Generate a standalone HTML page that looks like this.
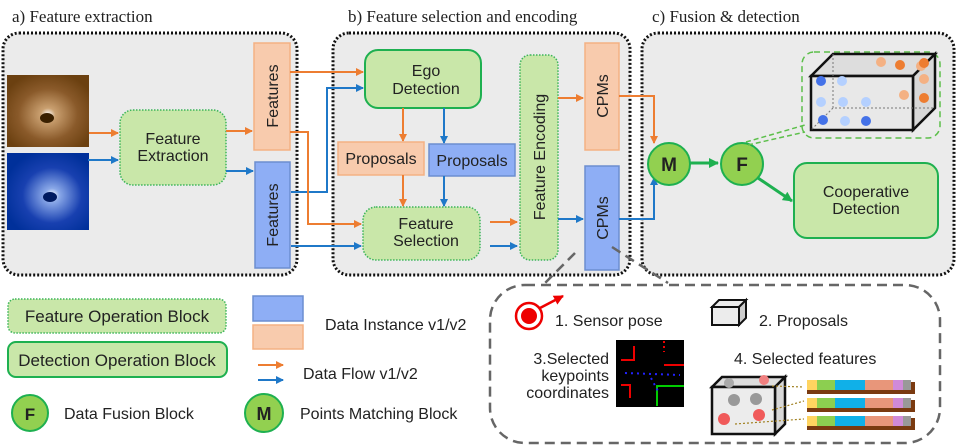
<!DOCTYPE html>
<html><head><meta charset="utf-8"><style>
html,body{margin:0;padding:0;background:#fff;}
svg{display:block;}
text{font-family:"Liberation Sans",sans-serif;fill:#222;}
.s{font-family:"Liberation Serif",serif;}
</style></head><body>
<svg width="957" height="448" viewBox="0 0 957 448" xmlns="http://www.w3.org/2000/svg">
<defs>
<marker id="ao" markerWidth="8" markerHeight="8" refX="7" refY="4" orient="auto" markerUnits="userSpaceOnUse"><path d="M0,0 L8,4 L0,8z" fill="#ed7d31"/></marker>
<marker id="ab" markerWidth="8" markerHeight="8" refX="7" refY="4" orient="auto" markerUnits="userSpaceOnUse"><path d="M0,0 L8,4 L0,8z" fill="#1f78c8"/></marker>
<marker id="ag" markerWidth="10" markerHeight="10" refX="9" refY="5" orient="auto" markerUnits="userSpaceOnUse"><path d="M0,0 L10,5 L0,10z" fill="#1eb050"/></marker>
<marker id="ar" markerWidth="10" markerHeight="10" refX="9" refY="5" orient="auto" markerUnits="userSpaceOnUse"><path d="M0,0 L10,5 L0,10z" fill="#e00"/></marker>
<radialGradient id="gb" cx="0.5" cy="0.55" r="0.6"><stop offset="0" stop-color="#fff"/><stop offset="0.15" stop-color="#caa070"/><stop offset="0.6" stop-color="#8a5a2a"/><stop offset="1" stop-color="#6b4010"/></radialGradient>
<radialGradient id="gl" cx="0.55" cy="0.55" r="0.6"><stop offset="0" stop-color="#fff"/><stop offset="0.15" stop-color="#8aa8e8"/><stop offset="0.6" stop-color="#1840b0"/><stop offset="1" stop-color="#00309a"/></radialGradient>
</defs>

<text class="s" x="12" y="22" font-size="17">a) Feature extraction</text>
<text class="s" x="348" y="22" font-size="17">b) Feature selection and encoding</text>
<text class="s" x="652" y="22" font-size="17">c) Fusion &amp; detection</text>

<rect x="3" y="33" width="294" height="242" rx="16" fill="#ebebeb" stroke="#111" stroke-width="3" stroke-dasharray="2 2"/>
<rect x="333" y="33" width="297" height="242" rx="16" fill="#ebebeb" stroke="#111" stroke-width="3" stroke-dasharray="2 2"/>
<rect x="642" y="33" width="312" height="242" rx="16" fill="#ebebeb" stroke="#111" stroke-width="3" stroke-dasharray="2 2"/>

<rect x="7" y="75" width="82" height="72" fill="url(#gb)"/>
<ellipse cx="47" cy="118" rx="7" ry="5" fill="#3a2000"/>
<rect x="7" y="153" width="82" height="77" fill="url(#gl)"/>
<ellipse cx="50" cy="197" rx="7" ry="5" fill="#001a60"/>

<rect x="120" y="110" width="106" height="75" rx="13" fill="#c9e7a9" stroke="#3cb55a" stroke-width="1.5" stroke-dasharray="1.5 1.5"/>
<text x="173" y="144" font-size="16" text-anchor="middle">Feature</text>
<text x="173" y="161" font-size="16" text-anchor="middle">Extraction</text>
<line x1="89" y1="133" x2="118" y2="133" stroke="#ed7d31" stroke-width="2" marker-end="url(#ao)"/>
<line x1="88" y1="160" x2="118" y2="160" stroke="#1f78c8" stroke-width="2" marker-end="url(#ab)"/>
<line x1="226" y1="131" x2="252" y2="131" stroke="#ed7d31" stroke-width="2" marker-end="url(#ao)"/>
<line x1="226" y1="171" x2="253" y2="171" stroke="#1f78c8" stroke-width="2" marker-end="url(#ab)"/>

<rect x="254" y="43" width="36" height="107" fill="#f8cbad" stroke="#f4b183" stroke-width="1.5"/>
<text transform="translate(278,96) rotate(-90)" font-size="16" text-anchor="middle">Features</text>
<rect x="255" y="162" width="35" height="106" fill="#8eaef5" stroke="#6c8ed0" stroke-width="1.5"/>
<text transform="translate(278,215) rotate(-90)" font-size="16" text-anchor="middle">Features</text>

<polyline points="290,72 363,72" fill="none" stroke="#ed7d31" stroke-width="2" marker-end="url(#ao)"/>
<polyline points="291,192 327,192 327,88 363,88" fill="none" stroke="#1f78c8" stroke-width="2" marker-end="url(#ab)"/>
<polyline points="290,132 308,132 308,224 361,224" fill="none" stroke="#ed7d31" stroke-width="2" marker-end="url(#ao)"/>
<polyline points="291,246 361,246" fill="none" stroke="#1f78c8" stroke-width="2" marker-end="url(#ab)"/>

<rect x="365" y="50" width="116" height="58" rx="13" fill="#c9e7a9" stroke="#1eb050" stroke-width="2"/>
<text x="426" y="76" font-size="16" text-anchor="middle">Ego</text>
<text x="426" y="94" font-size="16" text-anchor="middle">Detection</text>
<line x1="403" y1="108" x2="403" y2="141" stroke="#ed7d31" stroke-width="2" marker-end="url(#ao)"/>
<line x1="444" y1="108" x2="444" y2="143" stroke="#1f78c8" stroke-width="2" marker-end="url(#ab)"/>
<rect x="338" y="142" width="86" height="33" fill="#f8cbad" stroke="#f4b183" stroke-width="1.5"/>
<text x="381" y="164" font-size="16" text-anchor="middle">Proposals</text>
<rect x="429" y="144" width="86" height="32" fill="#8eaef5" stroke="#6c8ed0" stroke-width="1.5"/>
<text x="472" y="166" font-size="16" text-anchor="middle">Proposals</text>
<line x1="403" y1="175" x2="403" y2="206" stroke="#ed7d31" stroke-width="2" marker-end="url(#ao)"/>
<line x1="444" y1="176" x2="444" y2="206" stroke="#1f78c8" stroke-width="2" marker-end="url(#ab)"/>

<rect x="363" y="207" width="117" height="53" rx="13" fill="#c9e7a9" stroke="#3cb55a" stroke-width="1.5" stroke-dasharray="1.5 1.5"/>
<text x="426" y="229" font-size="16" text-anchor="middle">Feature</text>
<text x="426" y="246" font-size="16" text-anchor="middle">Selection</text>
<line x1="490" y1="222" x2="517" y2="222" stroke="#ed7d31" stroke-width="2" marker-end="url(#ao)"/>
<line x1="490" y1="246" x2="517" y2="246" stroke="#1f78c8" stroke-width="2" marker-end="url(#ab)"/>

<rect x="520" y="55" width="38" height="205" rx="10" fill="#c9e7a9" stroke="#3cb55a" stroke-width="1.5" stroke-dasharray="1.5 1.5"/>
<text transform="translate(545,157) rotate(-90)" font-size="16" text-anchor="middle">Feature Encoding</text>
<line x1="558" y1="98" x2="583" y2="98" stroke="#ed7d31" stroke-width="2" marker-end="url(#ao)"/>
<line x1="558" y1="219" x2="583" y2="219" stroke="#1f78c8" stroke-width="2" marker-end="url(#ab)"/>

<rect x="585" y="43" width="34" height="107" fill="#f8cbad" stroke="#f4b183" stroke-width="1.5"/>
<text transform="translate(608,96) rotate(-90)" font-size="16" text-anchor="middle">CPMs</text>
<rect x="585" y="166" width="34" height="104" fill="#8eaef5" stroke="#6c8ed0" stroke-width="1.5"/>
<text transform="translate(608,218) rotate(-90)" font-size="16" text-anchor="middle">CPMs</text>

<polyline points="619,96 654,96 654,143" fill="none" stroke="#ed7d31" stroke-width="2" marker-end="url(#ao)"/>
<polyline points="619,219 654,219 654,178" fill="none" stroke="#1f78c8" stroke-width="2" marker-end="url(#ab)"/>

<circle cx="669" cy="164" r="21" fill="#92d050" stroke="#1eb050" stroke-width="2"/>
<text x="669" y="171" font-size="19" font-weight="bold" text-anchor="middle">M</text>
<line x1="690" y1="163" x2="718" y2="163" stroke="#1eb050" stroke-width="3" marker-end="url(#ag)"/>
<circle cx="742" cy="164" r="21" fill="#92d050" stroke="#1eb050" stroke-width="2"/>
<text x="742" y="171" font-size="19" font-weight="bold" text-anchor="middle">F</text>
<line x1="758" y1="178" x2="792" y2="201" stroke="#1eb050" stroke-width="3" marker-end="url(#ag)"/>
<rect x="794" y="163" width="144" height="75" rx="13" fill="#c9e7a9" stroke="#1eb050" stroke-width="2"/>
<text x="866" y="197" font-size="16" text-anchor="middle">Cooperative</text>
<text x="866" y="214" font-size="16" text-anchor="middle">Detection</text>

<path d="M746,142 L805,125 M748,145 L805,132" stroke="#5cbf4a" stroke-width="1.5" stroke-dasharray="5 3"/>
<rect x="802" y="52" width="138" height="86" rx="12" fill="none" stroke="#5cbf4a" stroke-width="1.5" stroke-dasharray="6 4"/>
<g stroke="#111" stroke-width="2.5" fill="none">
<path d="M811,76 L833,54 L935,54 L913,76 Z" fill="#ddd"/>
<path d="M913,76 L935,54 L935,108 L913,130 Z" fill="#d8d8d8"/>
<rect x="811" y="76" width="102" height="54" fill="rgba(230,230,230,0.6)"/>
</g>
<path d="M833,54 L833,108 L935,108 M833,108 L811,130" stroke="#777" stroke-width="1" stroke-dasharray="2 2" fill="none"/>
<g>
<circle cx="821" cy="81" r="5" fill="#4472e8"/><circle cx="842" cy="81" r="5" fill="#b4d0ff"/>
<circle cx="821" cy="102" r="5" fill="#b4d0ff"/><circle cx="843" cy="102" r="5" fill="#b4d0ff"/><circle cx="866" cy="102" r="5" fill="#b4d0ff"/>
<circle cx="823" cy="120" r="5" fill="#4472e8"/><circle cx="845" cy="121" r="5" fill="#b4d0ff"/><circle cx="866" cy="121" r="5" fill="#4472e8"/>
<circle cx="881" cy="62" r="5" fill="#f4b183"/><circle cx="900" cy="65" r="5" fill="#ed7d31"/><circle cx="921" cy="66" r="5" fill="#f4b183"/><circle cx="924" cy="63" r="5" fill="#ed7d31"/>
<circle cx="924" cy="79" r="5" fill="#f4b183"/><circle cx="904" cy="95" r="5" fill="#f4b183"/><circle cx="924" cy="98" r="5" fill="#ed7d31"/>
</g>

<path d="M575,253 L538,290 M612,247 L668,283" stroke="#666" stroke-width="2.5" stroke-dasharray="10 6"/>
<rect x="490" y="285" width="450" height="158" rx="35" fill="#fff" stroke="#666" stroke-width="2.5" stroke-dasharray="10 6"/>
<circle cx="529" cy="316" r="13" fill="#fff" stroke="#e00" stroke-width="2.5"/>
<circle cx="529" cy="316" r="8" fill="#e00"/>
<line x1="540" y1="308" x2="563" y2="296" stroke="#e00" stroke-width="2.5" marker-end="url(#ar)"/>
<text x="555" y="326" font-size="16">1. Sensor pose</text>
<g stroke="#111" stroke-width="2" fill="#ececec">
<path d="M712,307 L719,300 L746,300 L739,307 Z"/>
<path d="M739,307 L746,300 L746,318 L739,325 Z" fill="#ccc"/>
<rect x="712" y="307" width="27" height="18"/>
</g>
<text x="759" y="326" font-size="16">2. Proposals</text>
<text x="609" y="364" font-size="16" text-anchor="end">3.Selected</text>
<text x="609" y="381" font-size="16" text-anchor="end">keypoints</text>
<text x="609" y="398" font-size="16" text-anchor="end">coordinates</text>
<rect x="616" y="340" width="68" height="67" fill="#000"/>
<g stroke-width="2" fill="none">
<path d="M634,346 L634,360 L621,360" stroke="#e00"/>
<path d="M664,341 L664,352" stroke="#e00" stroke-dasharray="2 3"/>
<path d="M664,365 L684,365" stroke="#e00"/>
<path d="M630,398 L630,385 L621,385" stroke="#e00"/>
<path d="M657,406 L657,386 L684,386" stroke="#0c0"/>
<path d="M625,373 L680,375 M651,378 L659,393" stroke="#22f" stroke-dasharray="2 4"/>
</g>
<text x="734" y="364" font-size="16">4.  Selected features</text>
<g stroke="#111" stroke-width="2.5" fill="#ececec">
<path d="M712,387 L722,377 L785,377 L775,387 Z" fill="#ddd"/>
<path d="M775,387 L785,377 L785,424 L775,434 Z" fill="#d8d8d8"/>
<rect x="712" y="387" width="63" height="47"/>
</g>
<circle cx="729" cy="383" r="5" fill="#aaa"/><circle cx="764" cy="380" r="5" fill="#f08080"/>
<circle cx="734" cy="400" r="6" fill="#999"/><circle cx="756" cy="399" r="6" fill="#999"/>
<circle cx="724" cy="419" r="6" fill="#f05a5a"/><circle cx="759" cy="415" r="6" fill="#f05a5a"/>
<g stroke="#a08020" stroke-width="1.2" stroke-dasharray="2 2"><line x1="772" y1="386" x2="804" y2="387"/><line x1="772" y1="410" x2="804" y2="401"/><line x1="735" y1="424" x2="804" y2="419"/></g>
<g>
<g transform="translate(807,380)"><rect x="0" y="2" width="108" height="12" fill="#7a3a10"/><rect x="0" y="0" width="10" height="10" fill="#ffd460"/><rect x="10" y="0" width="18" height="10" fill="#8ccf50"/><rect x="28" y="0" width="30" height="10" fill="#10b0e8"/><rect x="58" y="0" width="28" height="10" fill="#e8967a"/><rect x="86" y="0" width="10" height="10" fill="#d08ad8"/><rect x="96" y="0" width="8" height="10" fill="#999"/></g>
<g transform="translate(807,398)"><rect x="0" y="2" width="108" height="12" fill="#7a3a10"/><rect x="0" y="0" width="10" height="10" fill="#ffd460"/><rect x="10" y="0" width="18" height="10" fill="#8ccf50"/><rect x="28" y="0" width="30" height="10" fill="#10b0e8"/><rect x="58" y="0" width="28" height="10" fill="#e8967a"/><rect x="86" y="0" width="10" height="10" fill="#d08ad8"/><rect x="96" y="0" width="8" height="10" fill="#999"/></g>
<g transform="translate(807,416)"><rect x="0" y="2" width="108" height="12" fill="#7a3a10"/><rect x="0" y="0" width="10" height="10" fill="#ffd460"/><rect x="10" y="0" width="18" height="10" fill="#8ccf50"/><rect x="28" y="0" width="30" height="10" fill="#10b0e8"/><rect x="58" y="0" width="28" height="10" fill="#e8967a"/><rect x="86" y="0" width="10" height="10" fill="#d08ad8"/><rect x="96" y="0" width="8" height="10" fill="#999"/></g>
</g>

<rect x="8" y="299" width="218" height="34" rx="7" fill="#c9e7a9" stroke="#3cb55a" stroke-width="1.5" stroke-dasharray="1.5 1.5"/>
<text x="117" y="322" font-size="17" text-anchor="middle">Feature Operation Block</text>
<rect x="8" y="342" width="219" height="35" rx="8" fill="#c9e7a9" stroke="#1eb050" stroke-width="2"/>
<text x="117" y="366" font-size="17" text-anchor="middle">Detection Operation Block</text>
<circle cx="30" cy="413" r="18" fill="#92d050" stroke="#1eb050" stroke-width="2"/>
<text x="30" y="420" font-size="17" font-weight="bold" text-anchor="middle">F</text>
<text x="64" y="419" font-size="16">Data Fusion Block</text>
<rect x="253" y="296" width="50" height="25" fill="#8eaef5" stroke="#6c8ed0" stroke-width="1.5"/>
<rect x="253" y="325" width="50" height="24" fill="#f8cbad" stroke="#f4b183" stroke-width="1.5"/>
<text x="325" y="330" font-size="16">Data Instance v1/v2</text>
<line x1="258" y1="365" x2="283" y2="365" stroke="#ed7d31" stroke-width="2" marker-end="url(#ao)"/>
<line x1="258" y1="380" x2="283" y2="380" stroke="#1f78c8" stroke-width="2" marker-end="url(#ab)"/>
<text x="303" y="379" font-size="16">Data Flow v1/v2</text>
<circle cx="264" cy="413" r="19" fill="#92d050" stroke="#1eb050" stroke-width="2"/>
<text x="264" y="420" font-size="18" font-weight="bold" text-anchor="middle">M</text>
<text x="300" y="419" font-size="16">Points Matching Block</text>
</svg>
</body></html>
